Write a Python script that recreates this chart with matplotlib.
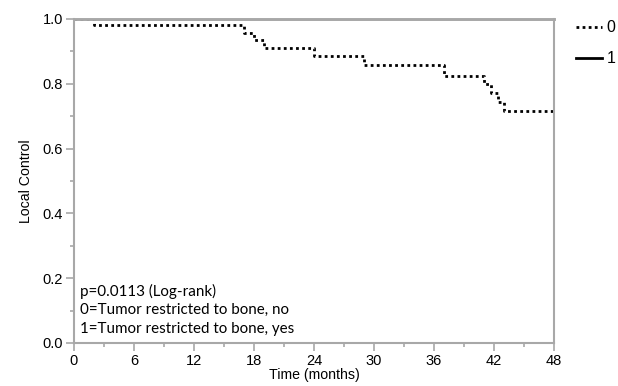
import numpy as np
import matplotlib
matplotlib.use("Agg")
from matplotlib import pyplot as plt
from matplotlib.lines import Line2D

# group 0 (tumor not restricted to bone) step curve
times_0 = [0, 2, 17, 18, 19, 24, 29, 37, 41, 41.7, 42.4, 43, 48]
surv_0 = [1.0, 0.981, 0.957, 0.934, 0.911, 0.886, 0.858, 0.824, 0.800, 0.772, 0.745, 0.716, 0.716]
# group 1 never drops
times_1 = [0, 48]
surv_1 = [1.0, 1.0]

x_ticks = [0, 6, 12, 18, 24, 30, 36, 42, 48]
y_ticks = [0.0, 0.2, 0.4, 0.6, 0.8, 1.0]
notes = ["p=0.0113 (Log-rank)",
         "0=Tumor restricted to bone, no",
         "1=Tumor restricted to bone, yes"]

plt.rcParams['font.family'] = ['Liberation Sans', 'DejaVu Sans']

fig = plt.figure(figsize=(6.18, 3.86), dpi=100)
ax = fig.add_axes([74 / 618, 43 / 386, 480 / 618, 324 / 386])

# both curves sit under the gray frame where they touch 1.0
ax.step(times_1, surv_1, where='post', color='black', lw=1, zorder=1)
ax.step(times_0, surv_0, where='post', color='black', lw=2,
        linestyle=(0, (1, 1.2)), zorder=2)

ax.set_xlim(0, 48)
ax.set_ylim(0, 1.0)
ax.set_xticks(x_ticks)
ax.set_xticks(np.arange(0, 49, 3), minor=True)
ax.set_yticks(y_ticks)
ax.set_yticks(np.arange(0, 1.01, 0.1), minor=True)
ax.set_yticklabels(["%.1f" % v for v in y_ticks])

for s in ax.spines.values():
    s.set_color('#a8a8a8')
    s.set_linewidth(1.5)
    s.set_zorder(4)
ax.spines['top'].set_linewidth(2.1)
ax.tick_params(which='both', direction='out', color='#a8a8a8', width=1.2)
ax.tick_params(which='major', length=6, labelsize=10.5, pad=2)
ax.tick_params(which='minor', length=3)

ax.set_xlabel("Time (months)", fontsize=10.2, labelpad=0)
ax.set_ylabel("Local Control", fontsize=10.2, labelpad=7)

for i, t in enumerate(notes):
    ax.text(0.013, 0.158 - i * 0.057, t, transform=ax.transAxes,
            fontsize=10.9, family=['Lato', 'DejaVu Sans'], va='center')

handles = [Line2D([], [], color='black', lw=2, linestyle=(0, (1, 1.2))),
           Line2D([], [], color='black', lw=2)]
fig.legend(handles, ["0", "1"], loc='upper left', bbox_to_anchor=(570 / 618, 1 - 14 / 386),
           frameon=False, fontsize=11.5, handlelength=1.6, handletextpad=0.3,
           labelspacing=1.0, borderaxespad=0)

fig.savefig("out.png", dpi=100)
